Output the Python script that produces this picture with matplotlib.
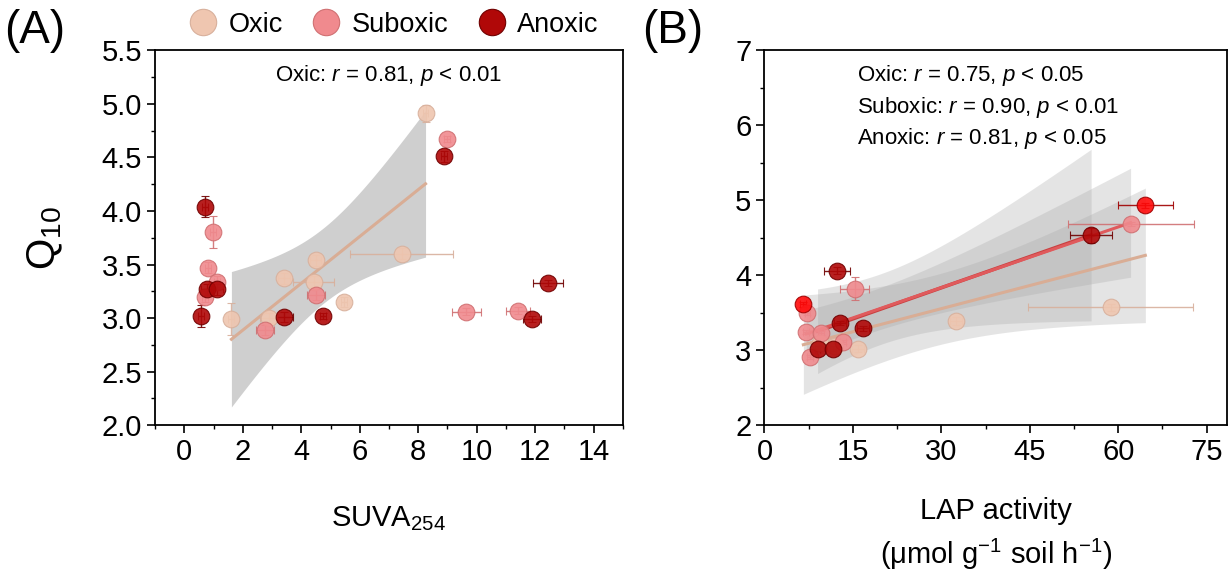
import numpy as np
import matplotlib
matplotlib.use("Agg")
from matplotlib import pyplot as plt
from matplotlib.lines import Line2D
from matplotlib.ticker import MultipleLocator

plt.rcParams['font.family'] = ['Liberation Sans', 'DejaVu Sans']
plt.rcParams['mathtext.fontset'] = 'custom'
plt.rcParams['mathtext.rm'] = 'Liberation Sans'
plt.rcParams['mathtext.it'] = 'Liberation Sans:italic'

# ---- panel A: Q10 vs SUVA254 ----
a_oxic_x = [8.25, 4.49, 3.40, 4.43, 5.46, 1.61, 2.89, 7.43]
a_oxic_y = [4.91, 3.54, 3.37, 3.34, 3.15, 2.99, 3.00, 3.60]
a_oxic_xerr = [0.1, 0.2, 0.2, 0.7, 0.1, 0.1, 0.3, 1.75]
a_oxic_yerr = [0.08, 0.05, 0.05, 0.05, 0.05, 0.15, 0.05, 0.05]

a_sub_x = [8.99, 0.98, 0.80, 1.12, 0.72, 4.51, 2.75, 9.64, 11.41]
a_sub_y = [4.67, 3.80, 3.47, 3.34, 3.20, 3.22, 2.89, 3.06, 3.07]
a_sub_xerr = [0.1, 0.1, 0.1, 0.1, 0.1, 0.3, 0.3, 0.5, 0.4]
a_sub_yerr = [0.03, 0.15, 0.05, 0.05, 0.05, 0.05, 0.05, 0.03, 0.03]

a_an_x = [8.88, 0.72, 0.77, 1.12, 0.58, 3.42, 4.74, 12.44, 11.90]
a_an_y = [4.51, 4.04, 3.27, 3.27, 3.02, 3.01, 3.02, 3.33, 2.99]
a_an_xerr = [0.1, 0.1, 0.2, 0.2, 0.1, 0.3, 0.1, 0.5, 0.3]
a_an_yerr = [0.05, 0.1, 0.05, 0.05, 0.1, 0.05, 0.03, 0.03, 0.03]

# ---- panel B: Q10 vs LAP activity ----
b_oxic_x = [15.9, 32.5, 58.7, 11.9, 9.5]
b_oxic_y = [3.02, 3.39, 3.57, 3.05, 3.10]
b_oxic_xerr = [1.0, 1.0, 14.0, 1.0, 1.0]
b_oxic_yerr = [0.05, 0.05, 0.05, 0.05, 0.05]

b_red_x = [6.6, 64.6]
b_red_y = [3.61, 4.93]
b_red_xerr = [0.5, 4.7]

b_sub_x = [7.3, 7.1, 7.8, 9.6, 13.3, 15.3, 62.1]
b_sub_y = [3.50, 3.24, 2.91, 3.23, 3.11, 3.82, 4.68]
b_sub_xerr = [0.5, 0.5, 0.5, 0.5, 0.5, 2.5, 10.7]
b_sub_yerr = [0.03, 0.03, 0.03, 0.03, 0.03, 0.15, 0.03]

b_an_x = [9.0, 11.6, 12.8, 16.7, 12.3, 55.4]
b_an_y = [3.02, 3.02, 3.36, 3.29, 4.06, 4.53]
b_an_xerr = [0.5, 0.5, 1.0, 1.0, 2.2, 3.5]
b_an_yerr = [0.03, 0.03, 0.03, 0.03, 0.05, 0.1]

c_oxic = '#efc6b0'
c_sub = '#f08a8e'
c_an = '#b00808'
c_red = '#ff0a0a'
line_oxic = '#d9ad95'
line_sub = '#e05a5c'
line_an = '#c84040'

T975 = {2: 4.303, 3: 3.182, 4: 2.776, 5: 2.571, 6: 2.447, 7: 2.365,
        8: 2.306, 9: 2.262, 10: 2.228}


def fit_band(ax, x, y, color, band_alpha, lw=2.2):
    x = np.asarray(x)
    y = np.asarray(y)
    n = len(x)
    b, a = np.polyfit(x, y, 1)
    res = y - (a + b * x)
    s = np.sqrt(np.sum(res ** 2) / (n - 2))
    xs = np.linspace(x.min(), x.max(), 100)
    se = s * np.sqrt(1 / n + (xs - x.mean()) ** 2 / np.sum((x - x.mean()) ** 2))
    t = T975[n - 2]
    ax.fill_between(xs, a + b * xs - t * se, a + b * xs + t * se,
                    color='#a8a8a8', alpha=band_alpha, lw=0, zorder=1)
    ax.plot(xs, a + b * xs, color=color, lw=lw, zorder=2)


def points(ax, x, y, xerr, yerr, color, ecolor):
    ax.errorbar(x, y, xerr=xerr, yerr=yerr, fmt='o', ms=12, mfc=color,
                mec=ecolor, mew=0.8, ecolor=ecolor, elinewidth=1.0,
                capsize=3, alpha=0.9, zorder=3)


fig = plt.figure(figsize=(12.31, 5.77), dpi=100)
axA = fig.add_axes([0.126, 0.263, 0.380, 0.650])
axB = fig.add_axes([0.621, 0.263, 0.376, 0.650])

fit_band(axA, a_oxic_x, a_oxic_y, line_oxic, 0.55)
points(axA, a_oxic_x, a_oxic_y, a_oxic_xerr, a_oxic_yerr, c_oxic, '#d8b09c')
points(axA, a_sub_x, a_sub_y, a_sub_xerr, a_sub_yerr, c_sub, '#d07072')
points(axA, a_an_x, a_an_y, a_an_xerr, a_an_yerr, c_an, '#700000')

fit_band(axB, b_oxic_x + b_red_x, b_oxic_y + b_red_y, line_oxic, 0.3)
fit_band(axB, b_an_x, b_an_y, line_an, 0.3, lw=2.6)
fit_band(axB, b_sub_x, b_sub_y, line_sub, 0.3)
points(axB, b_oxic_x, b_oxic_y, b_oxic_xerr, b_oxic_yerr, c_oxic, '#d8b09c')
points(axB, b_sub_x, b_sub_y, b_sub_xerr, b_sub_yerr, c_sub, '#d07072')
points(axB, b_an_x, b_an_y, b_an_xerr, b_an_yerr, c_an, '#700000')
points(axB, b_red_x, b_red_y, b_red_xerr, [0.03, 0.03], c_red, '#a00000')

axA.set_xlim(-1, 15)
axA.set_ylim(2.0, 5.5)
axA.xaxis.set_major_locator(MultipleLocator(2))
axA.xaxis.set_minor_locator(MultipleLocator(1))
axA.yaxis.set_major_locator(MultipleLocator(0.5))
axA.yaxis.set_minor_locator(MultipleLocator(0.25))
axA.yaxis.set_major_formatter(matplotlib.ticker.FormatStrFormatter('%.1f'))

axB.set_xlim(0, 78.5)
axB.set_ylim(2, 7)
axB.xaxis.set_major_locator(MultipleLocator(15))
axB.xaxis.set_minor_locator(MultipleLocator(7.5))
axB.yaxis.set_major_locator(MultipleLocator(1))
axB.yaxis.set_minor_locator(MultipleLocator(0.5))

for ax in (axA, axB):
    ax.tick_params(which='major', direction='out', length=6, width=1.2,
                   labelsize=21)
    ax.tick_params(which='minor', direction='out', length=3, width=1.0)
    for sp in ax.spines.values():
        sp.set_linewidth(1.3)

axA.set_ylabel('Q$_{10}$', fontsize=29, labelpad=26)
axA.set_xlabel('SUVA$_{254}$', fontsize=21, labelpad=27)
axB.set_xlabel('LAP activity\n(μmol g$^{-1}$ soil h$^{-1}$)', fontsize=21,
               labelpad=22, linespacing=1.45)

axA.text(0.5, 0.965, 'Oxic: $\\it{r}$ = 0.81, $\\it{p}$ < 0.01',
         transform=axA.transAxes, ha='center', va='top', fontsize=16)
axB.text(0.2, 0.965, 'Oxic: $\\it{r}$ = 0.75, $\\it{p}$ < 0.05\n'
         'Suboxic: $\\it{r}$ = 0.90, $\\it{p}$ < 0.01\n'
         'Anoxic: $\\it{r}$ = 0.81, $\\it{p}$ < 0.05',
         transform=axB.transAxes, ha='left', va='top', fontsize=16,
         linespacing=1.35)

fig.text(0.003, 0.925, '(A)', fontsize=33)
fig.text(0.522, 0.925, '(B)', fontsize=33)

handles = [Line2D([], [], ls='none', marker='o', ms=19, mfc=c, mec=e, mew=0.8)
           for c, e in ((c_oxic, '#d8b09c'), (c_sub, '#d07072'), (c_an, '#700000'))]
fig.legend(handles, ['Oxic', 'Suboxic', 'Anoxic'], loc='center',
           bbox_to_anchor=(0.32, 0.957), ncol=3, frameon=False, fontsize=19.5,
           handletextpad=0.45, columnspacing=1.1, handlelength=1.0)

fig.savefig('out.png', dpi=100)
